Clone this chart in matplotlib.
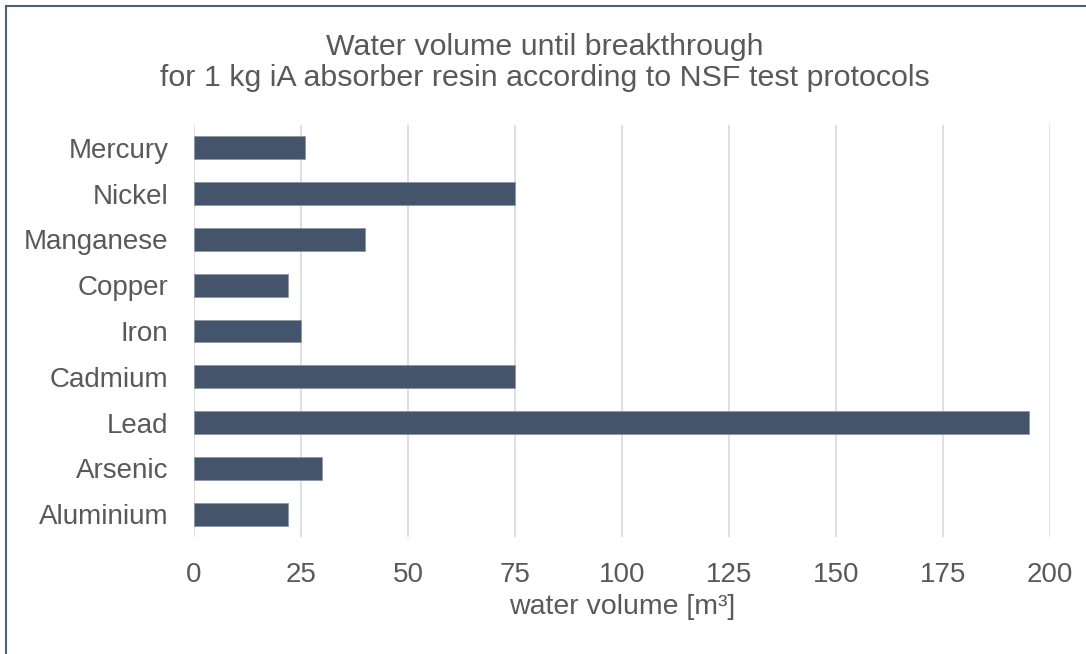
import matplotlib.pyplot as plt
from matplotlib.lines import Line2D

plt.rcParams['font.family'] = ['Liberation Sans', 'DejaVu Sans']

# Data (top to bottom as shown)
elements = ["Mercury", "Nickel", "Manganese", "Copper", "Iron",
            "Cadmium", "Lead", "Arsenic", "Aluminium"]
volumes = [26, 75, 40, 22, 25, 75, 195, 30, 22]
xticks = [0, 25, 50, 75, 100, 125, 150, 175, 200]

text_color = '#595959'
bar_color = '#44546A'

fig = plt.figure(figsize=(10.86, 6.54), dpi=100)
ax = fig.add_axes([194 / 1086, 117 / 654, 856 / 1086, 412 / 654])

ypos = list(range(len(elements)))[::-1]
ax.barh(ypos, volumes, height=0.5, color=bar_color,
        edgecolor='#8a97a8', linewidth=0.6, zorder=3)

ax.set_xlim(0, 200)
ax.set_ylim(-0.5, len(elements) - 0.5)
ax.set_xticks(xticks)
ax.set_yticks(ypos)
ax.set_yticklabels(elements)
ax.tick_params(axis='both', length=0, labelsize=20, colors=text_color)
ax.tick_params(axis='x', pad=18)
ax.tick_params(axis='y', pad=18.5)
ax.grid(axis='x', color='#d9d9d9', linewidth=1.2, zorder=0)
for s in ax.spines.values():
    s.set_visible(False)

ax.set_xlabel('water volume [m³]', fontsize=20.5, color=text_color, labelpad=4)

fig.text(545 / 1086, 1 - 47 / 654, 'Water volume until breakthrough',
         ha='center', va='center', fontsize=21.9, color=text_color)
fig.text(545 / 1086, 1 - 78 / 654,
         'for 1 kg iA absorber resin according to NSF test protocols',
         ha='center', va='center', fontsize=21.9, color=text_color)

# Chart frame (top and left edge visible)
fig.add_artist(Line2D([5.5 / 1086, 1.0], [1 - 5.5 / 654, 1 - 5.5 / 654],
                      transform=fig.transFigure, color='#4f5f75', linewidth=1.5))
fig.add_artist(Line2D([5.5 / 1086, 5.5 / 1086], [0, 1 - 5.5 / 654],
                      transform=fig.transFigure, color='#4f5f75', linewidth=1.5))

plt.savefig('out.png', dpi=100)
